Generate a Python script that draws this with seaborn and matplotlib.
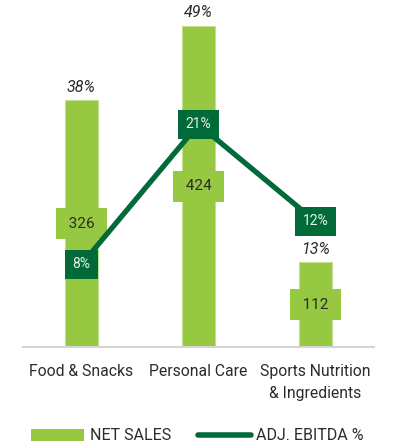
import matplotlib
matplotlib.use("Agg")
import matplotlib.pyplot as plt
import seaborn as sns
from matplotlib.lines import Line2D
from matplotlib.patches import Patch

categories = ["Food & Snacks", "Personal Care", "Sports Nutrition\n& Ingredients"]
net_sales = [326, 424, 112]
sales_share = ["38%", "49%", "13%"]
ebitda_pct = [8, 21, 12]
legend_labels = ["NET SALES", "ADJ. EBITDA %"]

LIGHT = "#96C841"
DARK = "#006A38"
TEXT = "#2b2b2b"

sns.set_theme(style="white")
plt.rcParams['font.family'] = ['Roboto', 'DejaVu Sans']

W, H = 393, 445
fig = plt.figure(figsize=(W / 100, H / 100), dpi=100)
ax = fig.add_axes([23 / W, 98 / H, 351 / W, 347 / H])

sns.barplot(x=categories, y=net_sales, color=LIGHT, saturation=1, width=0.28,
            edgecolor="#c3e092", linewidth=0.8, ax=ax, zorder=2)
ax.set_xlim(-0.5, 2.5)
ax.set_ylim(0, 458.3)

ax2 = ax.twinx()
sns.lineplot(x=categories, y=ebitda_pct, color=DARK, linewidth=3.8, sort=False,
             ax=ax2, zorder=3)
ax2.set_ylim(0.335, 32.55)

for a in (ax, ax2):
    for s in a.spines.values():
        s.set_visible(False)
    a.set_yticks([])
    a.set_ylabel("")
ax.spines["bottom"].set_visible(True)
ax.spines["bottom"].set_color("#d4d4d4")
ax.spines["bottom"].set_linewidth(1.5)
ax.tick_params(axis="x", length=0, pad=12, labelsize=11.3, labelcolor=TEXT)
for lab in ax.get_xticklabels():
    lab.set_linespacing(1.6)
ax2.tick_params(axis="x", length=0)
ax.set_xlabel("")

for i, v in enumerate(net_sales):
    ax.text(i, v / 2, f" {v} ", ha="center", va="center", fontsize=11, color=TEXT,
            bbox=dict(boxstyle="square,pad=0.58", fc=LIGHT, ec="none"), zorder=4)
    ax.annotate(sales_share[i], (i, v), xytext=(0, 4), textcoords="offset points",
                ha="center", va="bottom", fontsize=11.5, style="italic", color=TEXT)

for i, e in enumerate(ebitda_pct):
    ax2.text(i, e, f"{e}%", ha="center", va="center", fontsize=10, color="#e6f2e6",
             bbox=dict(boxstyle="square,pad=0.55", fc=DARK, ec="none"), zorder=5)

handles = [Patch(facecolor=LIGHT, edgecolor="none"),
           Line2D([0], [0], color=DARK, linewidth=4, solid_capstyle="round")]
fig.legend(handles, legend_labels, loc="center", bbox_to_anchor=(0.503, 9 / H),
           ncol=2, frameon=False, fontsize=11.5, handlelength=3.3,
           handletextpad=0.35, columnspacing=1.7, labelcolor=TEXT)

fig.savefig("out.png", dpi=100)
